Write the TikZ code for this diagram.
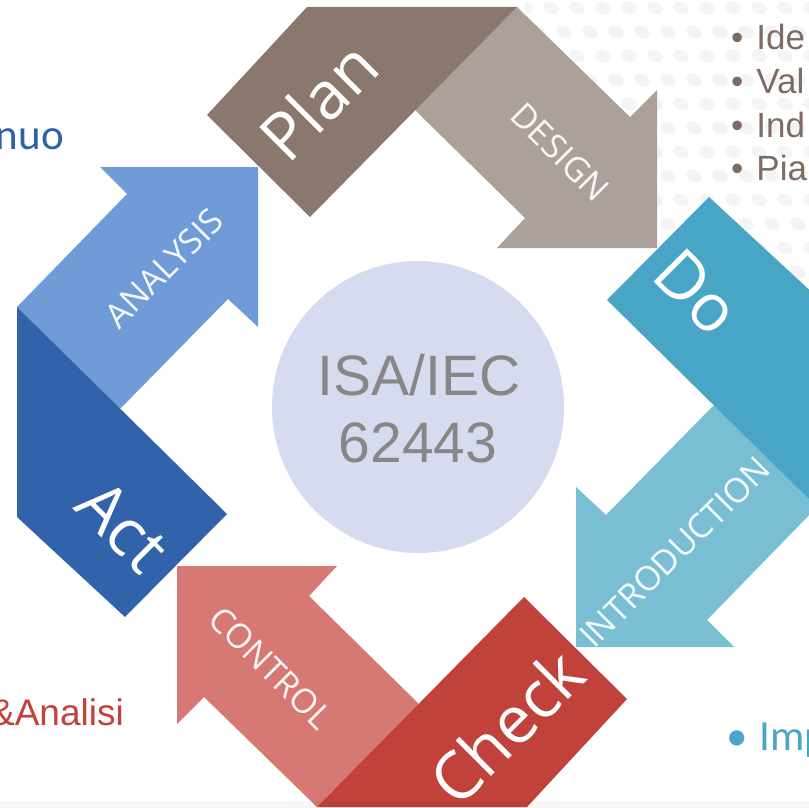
\documentclass[tikz,border=0pt]{standalone}
\usepackage{fontspec}
\setmainfont{Liberation Sans}
\newfontfamily\arialf{Liberation Sans}
\newfontfamily\calf{Carlito}
\newfontfamily\segf{Open Sans}
\definecolor{planC}{RGB}{138,119,110}
\definecolor{designC}{RGB}{172,160,154}
\definecolor{doC}{RGB}{73,165,198}
\definecolor{introC}{RGB}{121,190,211}
\definecolor{checkC}{RGB}{192,66,58}
\definecolor{controlC}{RGB}{214,121,117}
\definecolor{actC}{RGB}{48,99,170}
\definecolor{analysisC}{RGB}{111,155,214}
\definecolor{hubC}{RGB}{215,219,239}
\definecolor{hubtextC}{RGB}{135,135,135}
\definecolor{bulletC}{RGB}{125,108,100}
\definecolor{impC}{RGB}{75,165,200}
\definecolor{nuoC}{RGB}{45,98,170}
\definecolor{analisiC}{RGB}{196,64,58}
\definecolor{dotC}{RGB}{244,244,244}
\begin{document}
\begin{tikzpicture}[x=1pt,y=-1pt,
  bigword/.style={text=white, inner sep=0pt, font=\segf\fontsize{66}{70}\selectfont},
  arrowword/.style={text=white, text opacity=0.92, inner sep=0pt, font=\segf\fontsize{34}{38}\selectfont},
  sidetext/.style={inner sep=0pt, anchor=base west},
  hubtext/.style={text=hubtextC, inner sep=0pt, anchor=base, font=\arialf\fontsize{57}{60}\selectfont}]
\useasboundingbox (0,0) rectangle (809,808);
\clip (0,0) rectangle (809,808);
\fill[white] (0,0) rectangle (809,808);
% faint dot pattern, top right
\begin{scope}
  \clip (525,0) -- (809,0) -- (809,330) -- (690,330) -- (690,240) -- (525,240) -- cycle;
  \foreach \j in {0,...,13}{
    \foreach \i in {0,...,11}{
      \pgfmathsetmacro{\px}{525+26*\i+mod(\j,2)*13}
      \pgfmathsetmacro{\py}{8+24*\j}
      \fill[dotC, rotate around={-25:(\px,\py)}] (\px,\py) ellipse [x radius=8, y radius=6];
    }
  }
\end{scope}
% the four bent arrows
\foreach \ang/\dark/\light in {0/planC/designC, -90/doC/introC, 180/checkC/controlC, 90/actC/analysisC}{
  \begin{scope}[rotate around={\ang:(417,407)}]
    \fill[\light] (517,7) -- (630,117) -- (657,90) -- (657,248) -- (497,248) -- (525,218) -- (415,110) -- cycle;
    \fill[\dark] (207,115) -- (307,7) -- (517,7) -- (310,217) -- cycle;
  \end{scope}
}
% hub
\node[circle, fill=hubC, minimum size=292pt, inner sep=0pt] (hub) at (418,407) {};
\node[hubtext] (isa) at (419,395) {ISA/IEC};
\node[hubtext] (num) at (418,462) {62443};
% big words
\node[bigword, rotate=45] (plan) at (318,101) {Plan};
\node[bigword, rotate=-45] (do) at (697,292) {Do};
\node[bigword, rotate=45] (check) at (506,727) {Check};
\node[bigword, rotate=-45] (act) at (123,526) {Act};
% arrow words
\node[arrowword, rotate=-45] (design) at (560,152) {DESIGN};
\node[arrowword, rotate=45] (intro) at (675,552) {INTRODUCTION};
\node[arrowword, rotate=-45] (control) at (271,668) {CONTROL};
\node[arrowword, rotate=45] (analysis) at (164,268) {ANALYSIS};
% side texts
\node[sidetext, text=bulletC, font=\arialf\fontsize{35}{40}\selectfont] (b1) at (731,50) {•\hspace{13pt}Ide};
\node[sidetext, text=bulletC, font=\arialf\fontsize{35}{40}\selectfont] (b2) at (731,93) {•\hspace{13pt}Val};
\node[sidetext, text=bulletC, font=\arialf\fontsize{35}{40}\selectfont] (b3) at (731,137) {•\hspace{13pt}Ind};
\node[sidetext, text=bulletC, font=\arialf\fontsize{35}{40}\selectfont] (b4) at (731,180) {•\hspace{13pt}Pia};
\node[sidetext, text=impC, font=\calf\fontsize{43}{48}\selectfont] (imp) at (726,750) {•\hspace{12pt}Imp};
\node[inner sep=0pt, anchor=base east, text=nuoC, font=\calf\fontsize{43}{48}\selectfont] (nuo) at (64,149) {nuo};
\node[inner sep=0pt, anchor=base east, text=analisiC, font=\arialf\fontsize{37}{42}\selectfont] (analisi) at (124,725) {\&Analisi};
% faint footer band
\fill[black, opacity=0.03] (0,801) rectangle (809,808);
\end{tikzpicture}
\end{document}
